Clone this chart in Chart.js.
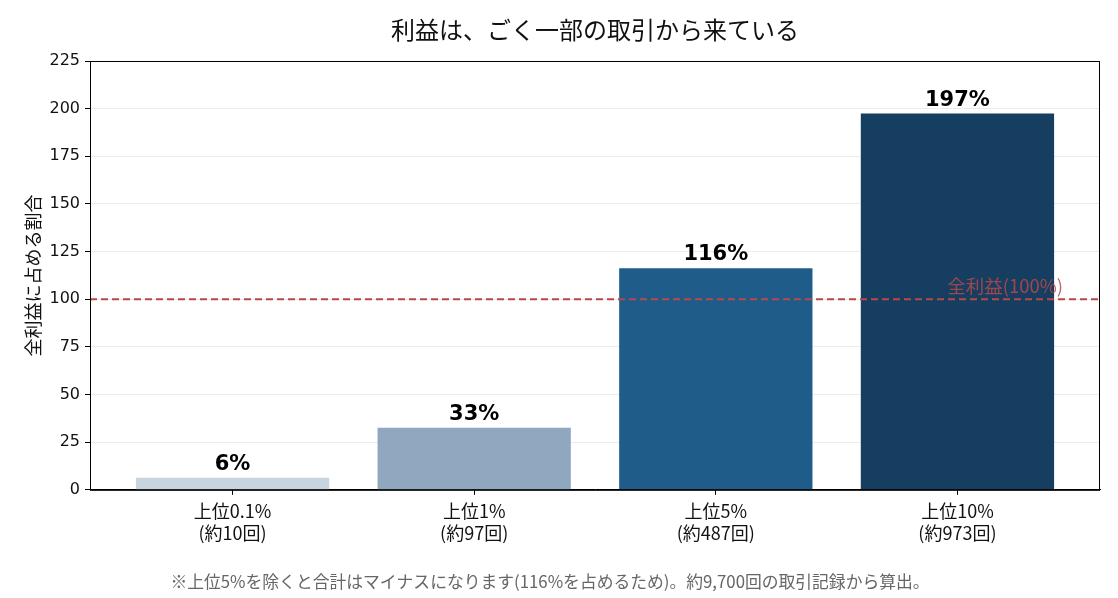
<!DOCTYPE html>
<html>
<head>
<meta charset="utf-8">
<script src="https://cdn.jsdelivr.net/npm/chart.js@4.4.1/dist/chart.umd.min.js"></script>
<style>
  html, body { margin: 0; padding: 0; background: #fff; }
  #wrap { width: 1118px; height: 598px; }
</style>
</head>
<body>
<div id="wrap"><canvas id="profitChart"></canvas></div>
<script>
// data
const categories = [['上位0.1%', '(約10回)'], ['上位1%', '(約97回)'], ['上位5%', '(約487回)'], ['上位10%', '(約973回)']];
const shares = [6.4, 32.6, 116.3, 197.4];
const shareLabels = ['6%', '33%', '116%', '197%'];
const barColors = ['#c8d4de', '#8fa8bf', '#1f5c8a', '#153e61'];
const yTicks = [0, 25, 50, 75, 100, 125, 150, 175, 200, 225];
const totalLine = 100;

const JP = '"Noto Sans CJK JP", sans-serif';
const LATIN = '"DejaVu Sans", sans-serif';

// value labels above bars, the 100% line and the box frame
const extras = {
    id: 'extras',
    afterDatasetsDraw(chart) {
        const ctx = chart.ctx;
        const area = chart.chartArea;
        const yScale = chart.scales.y;
        const meta = chart.getDatasetMeta(0);

        ctx.save();
        ctx.font = 'bold 21px ' + LATIN;
        ctx.fillStyle = '#000';
        ctx.textAlign = 'center';
        ctx.textBaseline = 'alphabetic';
        meta.data.forEach((bar, i) => {
            ctx.fillText(shareLabels[i], bar.x, bar.y - 8);
        });

        // total profit line
        const y = yScale.getPixelForValue(totalLine);
        ctx.strokeStyle = '#b8484a';
        ctx.lineWidth = 2;
        ctx.setLineDash([7, 4]);
        ctx.beginPath();
        ctx.moveTo(area.left, y);
        ctx.lineTo(area.right, y);
        ctx.stroke();
        ctx.setLineDash([]);

        ctx.font = '18.5px ' + JP;
        ctx.fillStyle = 'rgba(184, 72, 74, 0.85)';
        ctx.textAlign = 'right';
        ctx.textBaseline = 'alphabetic';
        ctx.fillText('全利益(100%)', area.right - 37, y - 6);

        // frame
        ctx.strokeStyle = '#000';
        ctx.lineWidth = 1;
        ctx.strokeRect(area.left + 0.5, area.top + 0.5, area.right - area.left - 1, area.bottom - area.top);
        ctx.restore();
    }
};

new Chart(document.getElementById('profitChart'), {
    type: 'bar',
    data: {
        datasets: [{
            data: shares.map((v, i) => ({ x: i, y: v })),
            backgroundColor: barColors,
            borderWidth: 0,
            barPercentage: 0.8,
            categoryPercentage: 1.0
        }]
    },
    options: {
        responsive: true,
        maintainAspectRatio: false,
        animation: false,
        layout: { padding: { left: 0, right: 18, top: 0, bottom: 0 } },
        plugins: {
            legend: { display: false },
            tooltip: { enabled: false },
            title: {
                display: true,
                text: '利益は、ごく一部の取引から来ている',
                fullSize: false,
                color: '#111',
                font: { family: JP, size: 24, weight: 'normal', lineHeight: 1.2 },
                padding: { top: 15.6, bottom: 16.6 }
            },
            subtitle: {
                display: true,
                position: 'bottom',
                text: '※上位5%を除くと合計はマイナスになります(116%を占めるため)。約9,700回の取引記録から算出。',
                color: '#666',
                font: { family: JP, size: 16.8, lineHeight: 1.2 },
                padding: { top: 6, bottom: 6 }
            }
        },
        scales: {
            x: {
                type: 'linear',
                min: -0.59,
                max: 3.59,
                offset: false,
                afterBuildTicks: s => { s.ticks = categories.map((_, i) => ({ value: i })); },
                afterFit: s => { s.height = 76; },
                ticks: {
                    callback: v => categories[v],
                    color: '#111',
                    font: { family: JP, size: 18, lineHeight: 1.22 },
                    padding: 5,
                    maxRotation: 0
                },
                grid: { offset: false, drawOnChartArea: false, drawTicks: true, tickLength: 5, tickColor: '#000' },
                border: { display: true, color: '#000' }
            },
            y: {
                min: 0,
                max: 225,
                afterBuildTicks: s => { s.ticks = yTicks.map(v => ({ value: v })); },
                afterFit: s => { s.width = 90; },
                ticks: {
                    color: '#111',
                    font: { family: LATIN, size: 16 },
                    padding: 5
                },
                grid: { color: '#ebebeb', tickColor: '#000', tickLength: 5 },
                border: { display: true, color: '#000' },
                title: {
                    display: true,
                    text: '全利益に占める割合',
                    color: '#111',
                    font: { family: JP, size: 18, lineHeight: 1.2 },
                    padding: { top: 22, bottom: 0 }
                }
            }
        }
    },
    plugins: [extras]
});
</script>
</body>
</html>
